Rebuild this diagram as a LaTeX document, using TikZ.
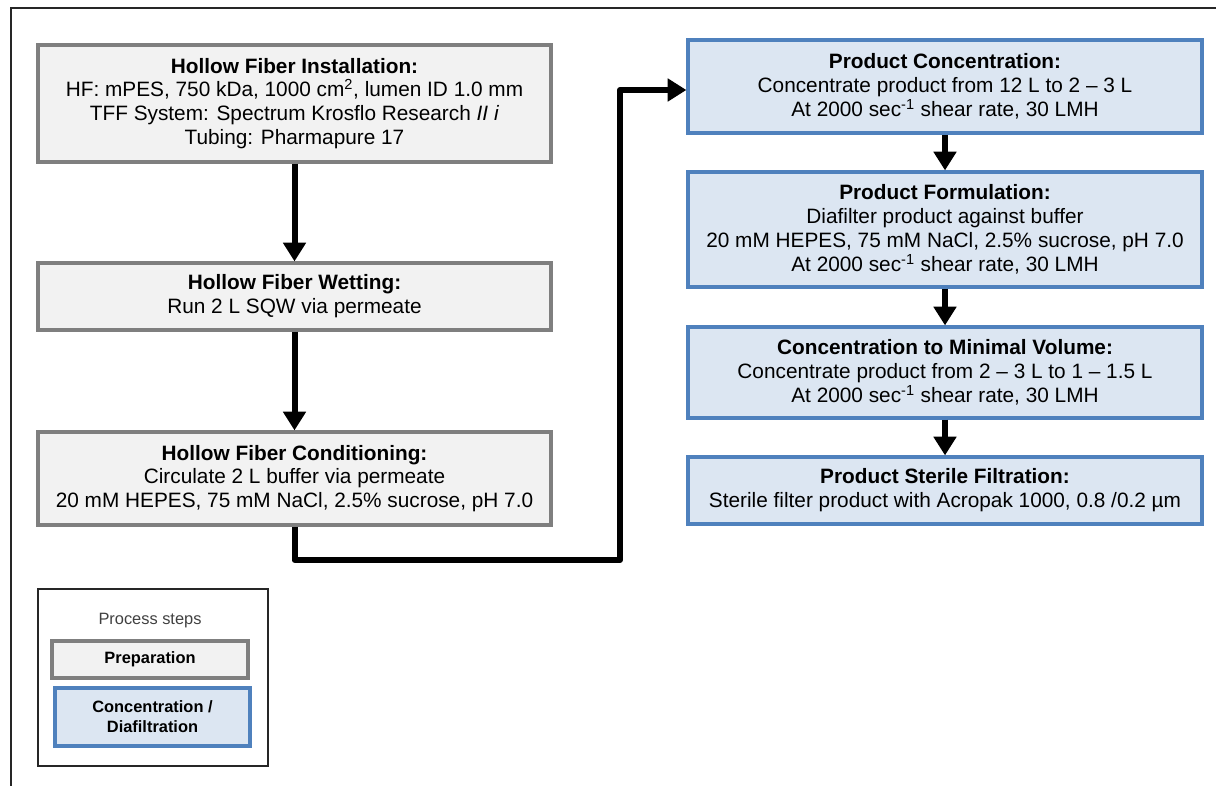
\documentclass[tikz,border=0pt]{standalone}
\usepackage{fontspec}
\setmainfont{Liberation Sans}
\usetikzlibrary{arrows.meta}
\definecolor{prepfill}{HTML}{F2F2F2}
\definecolor{prepdraw}{HTML}{7F7F7F}
\definecolor{cdfill}{HTML}{DCE6F2}
\definecolor{cddraw}{HTML}{4F81BD}
\begin{document}
\begin{tikzpicture}[x=0.75pt,y=-0.75pt,
  base/.style={align=center,inner sep=0pt,line width=2.4pt,font=\fontsize{15.6pt}{17.9pt}\selectfont},
  prep/.style={base,draw=prepdraw,fill=prepfill,minimum width=384.75pt},
  cd/.style={base,draw=cddraw,fill=cdfill,minimum width=385.5pt},
  flow/.style={line width=4.5pt,line join=round,-{Triangle[length=14pt,width=16.5pt]}},
  frame/.style={line width=1.6pt,draw=black!85}
]
\useasboundingbox (0,0) rectangle (1216,786);
\draw[frame] (1216,8) -- (11,8) -- (11,786);

\node[prep,minimum height=87.75pt] (inst) at (294.5,103.5)
 {\textbf{Hollow Fiber Installation:}\\HF: mPES, 750 kDa, 1000 cm\textsuperscript{2}, lumen ID 1.0 mm\\TFF System: Spectrum Krosflo Research \textit{II i}\\Tubing: Pharmapure 17};
\node[prep,minimum height=50.25pt] (wet) at (294.5,296.5)
 {\textbf{Hollow Fiber Wetting:}\\Run 2 L SQW via permeate};
\node[prep,minimum height=69.75pt] (cond) at (294.5,478.5)
 {\textbf{Hollow Fiber Conditioning:}\\Circulate 2 L buffer via permeate\\20 mM HEPES, 75 mM NaCl, 2.5\% sucrose, pH 7.0};

\node[cd,minimum height=69.75pt] (pc) at (945,86.5)
 {\textbf{Product Concentration:}\\Concentrate product from 12 L to 2 -- 3 L\\At 2000 sec\textsuperscript{-1} shear rate, 30 LMH};
\node[cd,minimum height=86.25pt] (pf) at (945,229.5)
 {\textbf{Product Formulation:}\\Diafilter product against buffer\\20 mM HEPES, 75 mM NaCl, 2.5\% sucrose, pH 7.0\\At 2000 sec\textsuperscript{-1} shear rate, 30 LMH};
\node[cd,minimum height=68.25pt] (cm) at (945,372.5)
 {\textbf{Concentration to Minimal Volume:}\\Concentrate product from 2 -- 3 L to 1 -- 1.5 L\\At 2000 sec\textsuperscript{-1} shear rate, 30 LMH};
\node[cd,minimum height=50.25pt] (sf) at (945,490.5)
 {\textbf{Product Sterile Filtration:}\\Sterile filter product with Acropak 1000, 0.8 /0.2 µm};

\draw[flow] (inst.south) -- (wet.north);
\draw[flow] (wet.south) -- (cond.north);
\coordinate (c2) at (620,560);
\coordinate (c3) at (620,90);
\draw[flow] (cond.south) -- (cond.south |- c2) -- (c2) -- (c3) -- (pc.west |- c3);
\draw[flow] (pc.south) -- (pf.north);
\draw[flow] (pf.south) -- (cm.north);
\draw[flow] (cm.south) -- (sf.north);

% legend
\node[draw=black!85,line width=1.5pt,minimum width=172.5pt,minimum height=132.75pt,inner sep=0pt] (leg) at (153,677.5) {};
\node[font=\fontsize{12.3pt}{14pt}\selectfont,text=black!75] (legt) at (150,621) {Process steps};
\node[prep,minimum width=147pt,minimum height=27.75pt,font=\bfseries\fontsize{12.3pt}{14pt}\selectfont] (legp) at (150,659.5) {Preparation};
\node[cd,minimum width=146.25pt,minimum height=43.5pt,font=\bfseries\fontsize{12.3pt}{15pt}\selectfont] (legc) at (152.5,717) {Concentration /\\Diafiltration};
\end{tikzpicture}
\end{document}
